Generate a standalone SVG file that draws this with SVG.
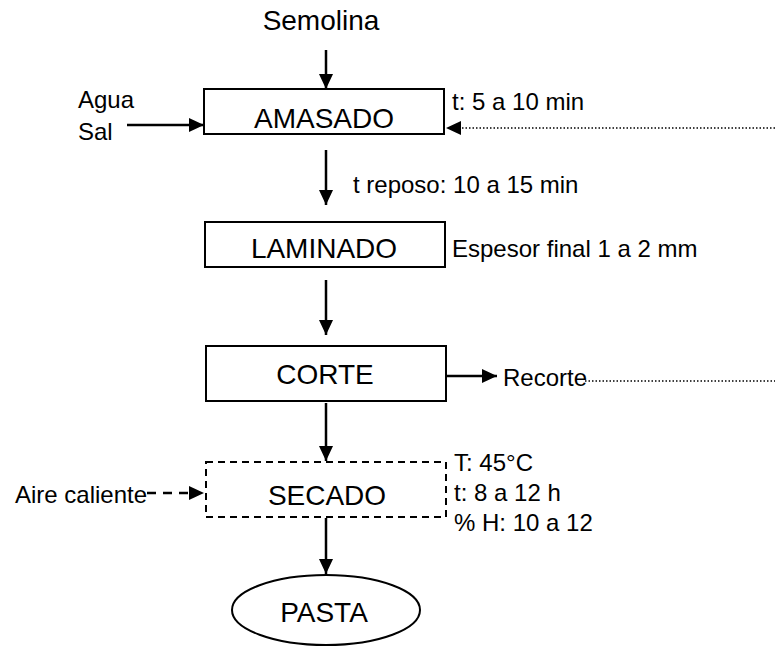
<svg xmlns="http://www.w3.org/2000/svg" width="775" height="648" viewBox="0 0 775 648">
  <style>
    .box { fill: #ffffff; stroke: #000000; stroke-width: 2; }
    .dashbox { fill: #ffffff; stroke: #000000; stroke-width: 2; stroke-dasharray: 7 5; }
    .main { font-family: "Liberation Sans", Arial, sans-serif; font-size: 28px; fill: #000000; text-anchor: middle; }
    .note { font-family: "Liberation Sans", Arial, sans-serif; font-size: 24px; fill: #000000; }
    .flow { stroke: #000000; stroke-width: 2.5; fill: none; }
    .dotted { stroke: #000000; stroke-width: 1.5; fill: none; stroke-dasharray: 1.5 2; }
    .dashed { stroke: #000000; stroke-width: 2.5; fill: none; stroke-dasharray: 9 7; }
    .head { fill: #000000; }
  </style>
  <defs>
    <marker id="arrow" viewBox="0 0 15 14" refX="15" refY="7" markerWidth="15" markerHeight="14" markerUnits="userSpaceOnUse" orient="auto">
      <path class="head" d="M0,0 L15,7 L0,14 Z"/>
    </marker>
  </defs>

  <!-- inputs and side notes -->
  <g id="semolina"><text class="main" x="321" y="30">Semolina</text></g>
  <g id="agua-sal">
    <text class="note" x="78" y="108">Agua</text>
    <text class="note" x="78" y="140">Sal</text>
  </g>
  <g id="note-amasado"><text class="note" x="452" y="110">t: 5 a 10 min</text></g>
  <g id="note-reposo"><text class="note" x="353" y="193">t reposo: 10 a 15 min</text></g>
  <g id="note-laminado"><text class="note" x="452" y="257">Espesor final 1 a 2 mm</text></g>
  <g id="recorte"><text class="note" x="503" y="386">Recorte</text></g>
  <g id="aire"><text class="note" x="15" y="503">Aire caliente</text></g>
  <g id="note-secado">
    <text class="note" x="454" y="471">T: 45°C</text>
    <text class="note" x="454" y="501">t: 8 a 12 h</text>
    <text class="note" x="454" y="531">% H: 10 a 12</text>
  </g>

  <!-- process steps -->
  <g id="amasado">
    <rect class="box" x="204" y="89" width="240" height="45"/>
    <text class="main" x="324" y="128">AMASADO</text>
  </g>
  <g id="laminado">
    <rect class="box" x="205" y="222" width="240" height="45"/>
    <text class="main" x="324" y="258">LAMINADO</text>
  </g>
  <g id="corte">
    <rect class="box" x="206" y="346" width="240" height="55"/>
    <text class="main" x="325" y="384">CORTE</text>
  </g>
  <g id="secado">
    <rect class="dashbox" x="206" y="462" width="240" height="55"/>
    <text class="main" x="327" y="505">SECADO</text>
  </g>
  <g id="pasta">
    <ellipse class="box" cx="326" cy="610" rx="94" ry="35"/>
    <text class="main" x="324" y="622">PASTA</text>
  </g>

  <!-- connectors -->
  <g id="connectors">
    <line class="flow" x1="326" y1="50" x2="326" y2="89" marker-end="url(#arrow)"/>
    <line class="flow" x1="127" y1="125" x2="204" y2="125" marker-end="url(#arrow)"/>
    <line class="dotted" x1="775" y1="128" x2="458" y2="128"/>
    <path class="head" d="M446,128 L461,121 L461,135 Z"/>
    <line class="flow" x1="326" y1="150" x2="326" y2="205" marker-end="url(#arrow)"/>
    <line class="flow" x1="326" y1="280" x2="326" y2="335" marker-end="url(#arrow)"/>
    <line class="flow" x1="446" y1="376" x2="497" y2="376" marker-end="url(#arrow)"/>
    <line class="dotted" x1="585" y1="381" x2="775" y2="381"/>
    <line class="flow" x1="326" y1="403" x2="326" y2="461" marker-end="url(#arrow)"/>
    <line class="dashed" x1="147" y1="493" x2="190" y2="493"/>
    <path class="head" d="M204,493 L189,486 L189,500 Z"/>
    <line class="flow" x1="326" y1="518" x2="326" y2="574" marker-end="url(#arrow)"/>
  </g>
</svg>
